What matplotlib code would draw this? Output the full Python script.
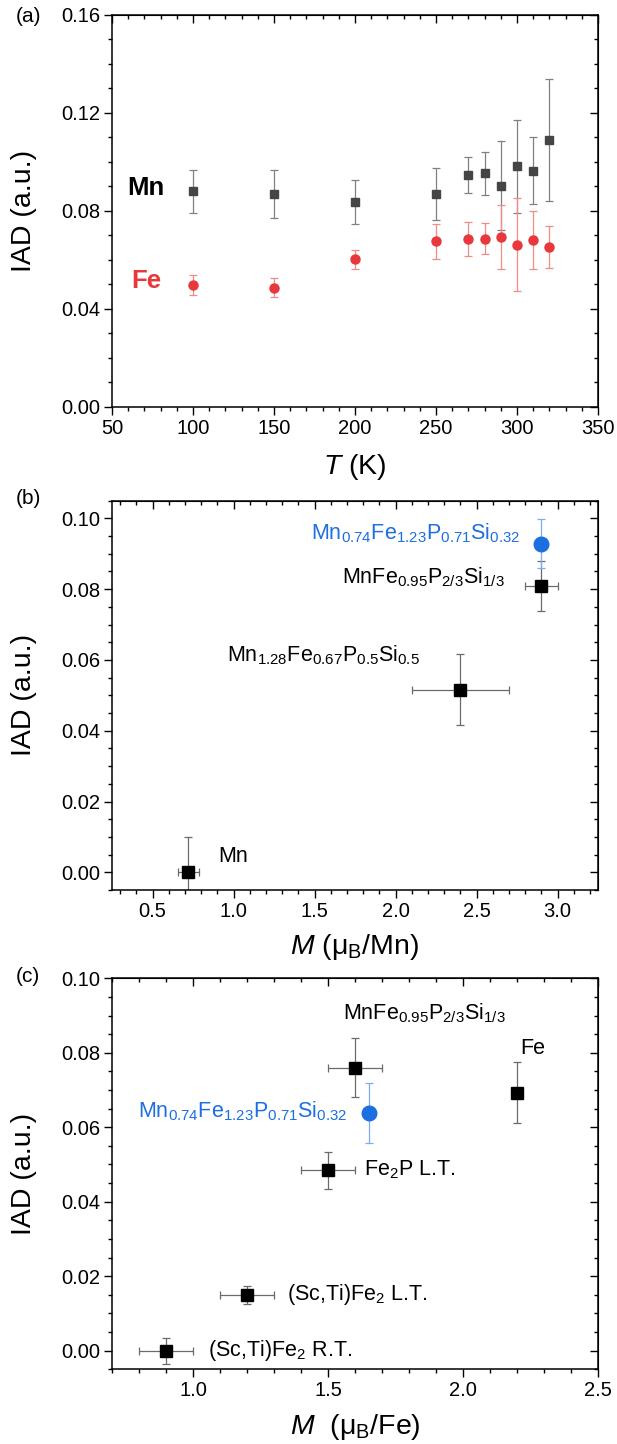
import matplotlib
matplotlib.use("Agg")
import matplotlib.pyplot as plt
from matplotlib.ticker import MultipleLocator, FormatStrFormatter

plt.rcParams['font.family'] = ['Liberation Sans', 'DejaVu Sans']
plt.rcParams['mathtext.fontset'] = 'custom'
plt.rcParams['mathtext.rm'] = 'Liberation Sans'
plt.rcParams['mathtext.it'] = 'Liberation Sans:italic'
plt.rcParams['mathtext.bf'] = 'Liberation Sans:bold'

# ---------- data (a) ----------
T = [100, 150, 200, 250, 270, 280, 290, 300, 310, 320]
mn_iad = [0.0880, 0.0868, 0.0837, 0.0869, 0.0945, 0.0954, 0.0903, 0.0982, 0.0964, 0.1090]
mn_err = [0.0087, 0.0097, 0.0090, 0.0105, 0.0074, 0.0088, 0.0183, 0.0190, 0.0137, 0.0249]
fe_iad = [0.0499, 0.0486, 0.0602, 0.0675, 0.0686, 0.0687, 0.0692, 0.0662, 0.0681, 0.0653]
fe_err = [0.0041, 0.0038, 0.0039, 0.0072, 0.0070, 0.0064, 0.0130, 0.0190, 0.0120, 0.0087]

# ---------- data (b) ----------
b_labels = ['Mn', r'Mn$_{\mathrm{1.28}}$Fe$_{\mathrm{0.67}}$P$_{\mathrm{0.5}}$Si$_{\mathrm{0.5}}$',
            r'MnFe$_{\mathrm{0.95}}$P$_{\mathrm{2/3}}$Si$_{\mathrm{1/3}}$']
b_m = [0.72, 2.40, 2.90]
b_iad = [0.000, 0.0516, 0.0809]
b_xerr = [0.065, 0.30, 0.10]
b_yerr = [0.010, 0.010, 0.007]
b_new_label = r'Mn$_{\mathrm{0.74}}$Fe$_{\mathrm{1.23}}$P$_{\mathrm{0.71}}$Si$_{\mathrm{0.32}}$'
b_new_m = [2.90]
b_new_iad = [0.0929]
b_new_yerr = [0.007]

# ---------- data (c) ----------
c_labels = [r'(Sc,Ti)Fe$_{\mathrm{2}}$ R.T.', r'(Sc,Ti)Fe$_{\mathrm{2}}$ L.T.', r'Fe$_{\mathrm{2}}$P L.T.',
            r'MnFe$_{\mathrm{0.95}}$P$_{\mathrm{2/3}}$Si$_{\mathrm{1/3}}$', 'Fe']
c_m = [0.90, 1.20, 1.50, 1.60, 2.20]
c_iad = [0.000, 0.0150, 0.0484, 0.0760, 0.0693]
c_xerr = [0.10, 0.10, 0.10, 0.10, 0.0]
c_yerr = [0.0035, 0.0025, 0.0050, 0.0080, 0.0081]
c_new_label = b_new_label
c_new_m = [1.65]
c_new_iad = [0.0639]
c_new_yerr = [0.008]

RED = '#e8383b'
RED_ERR = '#f28a8a'
BLUE = '#1c6fe0'
BLUE_ERR = '#7aaef0'
GREY = '#454545'
ERR = '#6a6a6a'

TICK_FS = 14.5
LAB_FS = 20.5
ANN_FS = 15.5

fig = plt.figure(figsize=(6.17, 14.44), dpi=100)

L = 112 / 617
W = 486 / 617


def style(ax, xmaj, xmin, ymaj, ymin, yfmt='%.2f', xfmt='%.1f'):
    for s in ax.spines.values():
        s.set_linewidth(1.1)
    ax.xaxis.set_major_locator(MultipleLocator(xmaj))
    ax.xaxis.set_minor_locator(MultipleLocator(xmin))
    ax.yaxis.set_major_locator(MultipleLocator(ymaj))
    ax.yaxis.set_minor_locator(MultipleLocator(ymin))
    ax.yaxis.set_major_formatter(FormatStrFormatter(yfmt))
    ax.xaxis.set_major_formatter(FormatStrFormatter(xfmt))
    ax.tick_params(which='both', direction='out', top=False, right=False,
                   labelsize=TICK_FS, width=1.0, pad=3)
    ax.tick_params(which='major', length=5.5)
    ax.tick_params(which='minor', length=3)
    top = ax.secondary_xaxis('top')
    top.xaxis.set_major_locator(MultipleLocator(xmaj))
    top.xaxis.set_minor_locator(MultipleLocator(xmin))
    top.tick_params(which='both', direction='in', labeltop=False, width=1.0)
    top.tick_params(which='major', length=5.5)
    top.tick_params(which='minor', length=3)
    right = ax.secondary_yaxis('right')
    right.yaxis.set_major_locator(MultipleLocator(ymaj))
    right.yaxis.set_minor_locator(MultipleLocator(ymin))
    right.tick_params(which='both', direction='in', labelright=False, width=1.0)
    right.tick_params(which='major', length=5.5)
    right.tick_params(which='minor', length=3)


def eb(ax, x, y, xerr, yerr, color):
    ax.errorbar(x, y, xerr=xerr, yerr=yerr, fmt='none', ecolor=color, elinewidth=0.9,
                capsize=3, capthick=0.9, zorder=2)


# ================= (a) =================
axa = fig.add_axes([L, 1 - 406.7 / 1444, W, 391.7 / 1444])
eb(axa, T, mn_iad, None, mn_err, '#808080')
eb(axa, T, fe_iad, None, fe_err, RED_ERR)
axa.plot(T, mn_iad, 's', color=GREY, ms=6, mec=GREY, zorder=3)
axa.plot(T, fe_iad, 'o', color=RED, ms=6.5, mec=RED, zorder=3)
axa.set_xlim(50, 350)
axa.set_ylim(0, 0.16)
style(axa, 50, 10, 0.04, 0.01, xfmt='%d')
axa.text(71, 0.0895, 'Mn', fontsize=18.5, fontweight='bold', color='black', ha='center', va='center')
axa.text(71, 0.0515, 'Fe', fontsize=18.5, fontweight='bold', color=RED, ha='center', va='center')
axa.set_xlabel(r'$\mathit{T}$ (K)', fontsize=LAB_FS)
axa.set_ylabel('IAD (a.u.)', fontsize=LAB_FS)
axa.xaxis.set_label_coords(0.5, -0.115)
axa.yaxis.set_label_coords(-0.154, 0.5)
fig.text(16 / 617, 1 - 16 / 1444, '(a)', fontsize=15, ha='left', va='center')

# ================= (b) =================
axb = fig.add_axes([L, 1 - 890 / 1444, W, 389.3 / 1444])
eb(axb, b_m, b_iad, b_xerr, b_yerr, ERR)
eb(axb, b_new_m, b_new_iad, None, b_new_yerr, BLUE_ERR)
axb.plot(b_m, b_iad, 's', color='black', ms=8.5, zorder=3)
axb.plot(b_new_m, b_new_iad, 'o', color=BLUE, ms=10.5, zorder=3)
axb.set_xlim(0.25, 3.25)
axb.set_ylim(-0.005, 0.105)
style(axb, 0.5, 0.1, 0.02, 0.005)
b_text_pos = [(0.905, 0.0046, 'left'), (0.958, 0.0614, 'left'), (1.668, 0.0834, 'left')]
for lab, (tx, ty, ha) in zip(b_labels, b_text_pos):
    axb.text(tx, ty, lab, fontsize=ANN_FS, ha=ha, va='center', color='black')
axb.text(2.77, 0.0958, b_new_label, fontsize=ANN_FS, ha='right', va='center', color=BLUE)
axb.set_xlabel(r'$\mathit{M}$ (μ$_{\mathrm{B}}$/Mn)', fontsize=LAB_FS)
axb.set_ylabel('IAD (a.u.)', fontsize=LAB_FS)
axb.xaxis.set_label_coords(0.5, -0.108)
axb.yaxis.set_label_coords(-0.154, 0.5)
fig.text(16 / 617, 1 - 499 / 1444, '(b)', fontsize=15, ha='left', va='center')

# ================= (c) =================
axc = fig.add_axes([L, 1 - 1369.3 / 1444, W, 391 / 1444])
eb(axc, c_m, c_iad, c_xerr, c_yerr, ERR)
eb(axc, c_new_m, c_new_iad, None, c_new_yerr, BLUE_ERR)
axc.plot(c_m, c_iad, 's', color='black', ms=8.8, zorder=3)
axc.plot(c_new_m, c_new_iad, 'o', color=BLUE, ms=10.5, zorder=3)
axc.set_xlim(0.7, 2.5)
axc.set_ylim(-0.005, 0.10)
style(axc, 0.5, 0.1, 0.02, 0.005)
c_text_pos = [(1.054, 0.0, 'left'), (1.348, 0.0151, 'left'), (1.635, 0.0485, 'left'),
              (1.555, 0.0906, 'left'), (2.257, 0.0812, 'center')]
for lab, (tx, ty, ha) in zip(c_labels, c_text_pos):
    axc.text(tx, ty, lab, fontsize=ANN_FS, ha=ha, va='center', color='black')
axc.text(1.572, 0.0642, c_new_label, fontsize=ANN_FS, ha='right', va='center', color=BLUE)
axc.set_xlabel(r'$\mathit{M}$  (μ$_{\mathrm{B}}$/Fe)', fontsize=LAB_FS)
axc.set_ylabel('IAD (a.u.)', fontsize=LAB_FS)
axc.xaxis.set_label_coords(0.5, -0.108)
axc.yaxis.set_label_coords(-0.154, 0.5)
fig.text(16 / 617, 1 - 976 / 1444, '(c)', fontsize=15, ha='left', va='center')

fig.savefig('out.png', dpi=100)
